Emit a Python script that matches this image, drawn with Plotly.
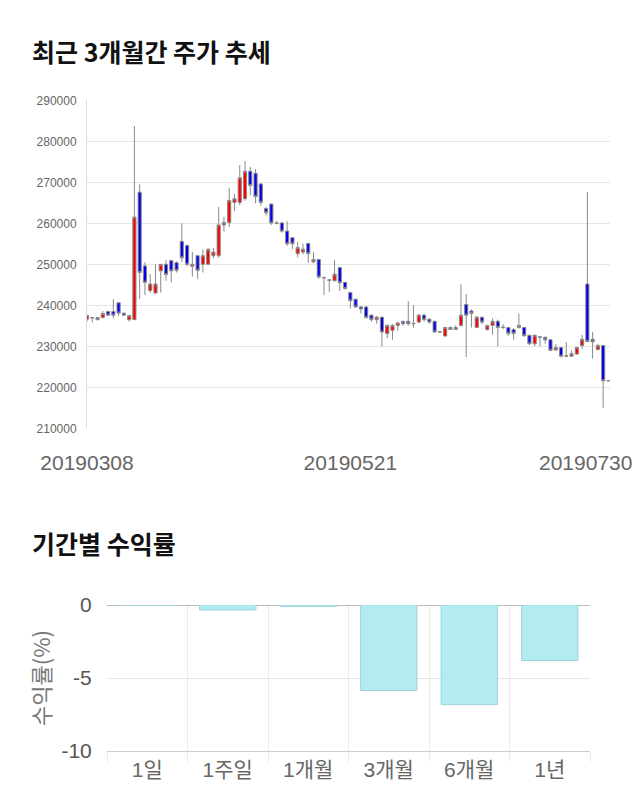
import plotly.graph_objects as go
import pandas as pd

# trading days 2019-03-08 .. 2019-07-30 (KRX holidays removed)
holidays = ["2019-05-01", "2019-05-06", "2019-06-06"]
dates = [d.strftime("%Y%m%d") for d in pd.bdate_range("2019-03-08", "2019-07-30")
         if d.strftime("%Y-%m-%d") not in holidays]

opens = [236600, 236900, 237000, 237000, 238500, 238500, 240600, 238100, 236500, 236500,
         267600, 249600, 243600, 243000, 248400, 250000, 250900, 250400, 255600, 254600,
         249500, 252100, 250000, 250000, 252100, 252100, 259600, 260200, 265100, 265100,
         266000, 272700, 272200, 269600, 263600, 264700, 260100, 260100, 258100, 256500,
         252600, 253000, 255100, 250600, 251200, 246800, 246200, 246000, 249200, 245600,
         243100, 241500, 239600, 239600, 237600, 236500, 237100, 233100, 233900, 235100,
         236100, 236100, 235600, 235900, 237600, 236600, 236100, 233600, 232500, 234600,
         234100, 235100, 240200, 238600, 234600, 237100, 234100, 235100, 236100, 234700,
         234600, 234100, 234600, 234600, 232700, 230600, 232300, 232200, 231600, 229100,
         229700, 227700, 227600, 228100, 230200, 245200, 231700, 229200, 230200, 221600]
highs = [237800, 237000, 237100, 238600, 238600, 241500, 240700, 238100, 237600, 283700,
         269500, 250500, 247600, 250000, 250000, 251000, 251000, 250700, 260000, 254800,
         253000, 252200, 253600, 254000, 254000, 264000, 261600, 268700, 267200, 274200,
         275200, 273800, 273200, 269800, 264000, 264800, 260600, 260200, 260500, 256600,
         255500, 255000, 255200, 253000, 251300, 246800, 246400, 251000, 249300, 245700,
         243300, 241600, 239800, 239700, 237800, 237400, 237200, 235400, 235400, 236000,
         236200, 241000, 240000, 237900, 237900, 236900, 236200, 233600, 234700, 234800,
         235100, 245100, 242700, 239000, 237400, 237200, 235200, 236800, 236500, 235400,
         234700, 234400, 238000, 234700, 232800, 232800, 232500, 232300, 231700, 230500,
         229800, 231000, 229000, 229900, 232800, 267600, 233500, 230600, 230300, 221700]
lows = [236000, 235800, 236300, 236800, 237500, 236800, 237400, 237500, 236000, 236400,
        241600, 242500, 243000, 242800, 243100, 246000, 245600, 248000, 250500, 249500,
        247000, 246500, 248000, 250000, 251500, 251600, 258000, 259100, 263000, 264400,
        265500, 266800, 264900, 264300, 261900, 259600, 259700, 257700, 254500, 253700,
        251700, 252400, 250400, 250300, 246500, 242500, 243300, 245800, 243500, 243800,
        239200, 239400, 238000, 236800, 236000, 235500, 230000, 232000, 231600, 233800,
        235000, 235000, 234500, 235700, 236000, 235500, 233300, 233200, 232400, 234000,
        234000, 234800, 227400, 234600, 234400, 235400, 233800, 232800, 230000, 234200,
        232500, 231600, 234300, 232300, 230400, 230000, 230000, 230600, 228800, 229000,
        227300, 227400, 227400, 228000, 229400, 231000, 227000, 229000, 215000, 221500]
closes = [237500, 237000, 236500, 238000, 237600, 237600, 238100, 237600, 237500, 261500,
          248000, 245600, 245200, 245200, 250000, 247500, 248400, 248500, 251600, 250000,
          250000, 248500, 252100, 253600, 253000, 259600, 260200, 265600, 266000, 271100,
          272700, 269200, 266500, 265100, 262600, 260100, 260000, 258100, 255000, 255000,
          254100, 253700, 252600, 251200, 246900, 246700, 246100, 247600, 245500, 244100,
          241100, 239600, 239100, 237000, 236500, 237100, 233500, 235100, 235100, 235700,
          235500, 235500, 235500, 237600, 236500, 235900, 233500, 233500, 234600, 234100,
          234600, 237600, 237600, 238000, 237100, 235900, 235100, 236100, 234600, 234600,
          233100, 233100, 235100, 232600, 230600, 232700, 232200, 231600, 229000, 229700,
          227600, 227600, 228200, 229700, 231700, 231200, 231100, 230200, 221600, 221600]

price_ticks = list(range(210000, 290001, 10000))
date_tick_idx = [0, 50]

periods = ["1일", "1주일", "1개월", "3개월", "6개월", "1년"]
returns = [0.0, -0.34, -0.11, -5.86, -6.82, -3.8]

# the page body adds an 8px offset, so the figure is drawn 8px smaller
OFF = 8
W, H = 640 - OFF, 810 - OFF
def px(x):
    return (x - OFF) / W
def py(y):
    return 1 - (y - OFF) / H

fig = go.Figure()
fig.add_trace(go.Candlestick(
    x=dates, open=opens, high=highs, low=lows, close=closes,
    increasing=dict(fillcolor="#ff0000", line=dict(color="#8a8a8a", width=1)),
    decreasing=dict(fillcolor="#0000ee", line=dict(color="#8a8a8a", width=1)),
    whiskerwidth=0, xaxis="x", yaxis="y", showlegend=False, hoverinfo="skip",
))
fig.add_trace(go.Bar(
    x=periods, y=returns, xaxis="x2", yaxis="y2",
    marker=dict(color="#b3ebf3", line=dict(color="#9fd3dc", width=1)),
    showlegend=False, hoverinfo="skip",
))

num_font = "Liberation Sans, Arial, Noto Sans CJK KR, sans-serif"
kr_font = "Noto Sans CJK KR, sans-serif"

fig.update_layout(
    width=W, height=H, margin=dict(l=0, r=0, t=0, b=0, autoexpand=False),
    paper_bgcolor="white", plot_bgcolor="white",
    boxgap=0.15, bargap=0.3,
    xaxis=dict(
        domain=[px(87), px(610)], type="category", range=[0, 99.3], automargin=False,
        rangeslider=dict(visible=False), showgrid=False, zeroline=False,
        tickvals=[dates[i] for i in date_tick_idx],
        ticktext=[dates[i] for i in date_tick_idx],
        ticks="outside", ticklen=15, tickcolor="rgba(0,0,0,0)",
        tickfont=dict(family=num_font, size=21, color="#666"),
        showline=False, anchor="y",
    ),
    yaxis=dict(
        domain=[py(428.3), py(100.3)], range=[210000, 290000], automargin=False,
        tickvals=price_ticks, tickformat="d",
        tickfont=dict(family=num_font, size=12, color="#666"),
        showgrid=True, gridcolor="#e6e6e6", gridwidth=1, zeroline=False,
        showline=True, linecolor="#dddddd", linewidth=1,
        ticks="outside", ticklen=7, tickcolor="rgba(0,0,0,0)", anchor="x",
    ),
    xaxis2=dict(
        domain=[px(107), px(590)], type="category", anchor="y2", automargin=False,
        tickson="boundaries", showgrid=True, gridcolor="#ebebeb",
        ticks="outside", ticklen=10, tickcolor="#ebebeb",
        tickfont=dict(family=num_font, size=21, color="#666"),
        showline=True, linecolor="#cccccc", linewidth=1, zeroline=False,
    ),
    yaxis2=dict(
        domain=[py(751), py(605)], range=[-10, 0], anchor="x2", automargin=False,
        tickvals=[0, -5, -10], ticktext=["0", "-5", "-10"],
        tickfont=dict(family=num_font, size=21, color="#555"),
        showgrid=True, gridcolor="#e6e6e6", zeroline=True, zerolinecolor="#bbbbbb",
        zerolinewidth=1, ticks="outside", ticklen=10, tickcolor="rgba(0,0,0,0)",
        title=dict(text="수익률(%)", font=dict(family=kr_font, size=22, color="#777"), standoff=4),
    ),
    annotations=[
        dict(text="<b>최근 3개월간 주가 추세</b>", x=px(30), y=py(51), xref="paper", yref="paper",
             xanchor="left", yanchor="middle", showarrow=False,
             font=dict(family=kr_font, size=25, color="#111")),
        dict(text="<b>기간별 수익률</b>", x=px(30), y=py(543), xref="paper", yref="paper",
             xanchor="left", yanchor="middle", showarrow=False,
             font=dict(family=kr_font, size=25, color="#111")),
        dict(text=dates[-1], x=99, y=py(462), xref="x", yref="paper",
             xanchor="right", yanchor="middle", xshift=26, showarrow=False,
             font=dict(family=num_font, size=21, color="#666")),
    ],
)

fig.write_html("out.html")
